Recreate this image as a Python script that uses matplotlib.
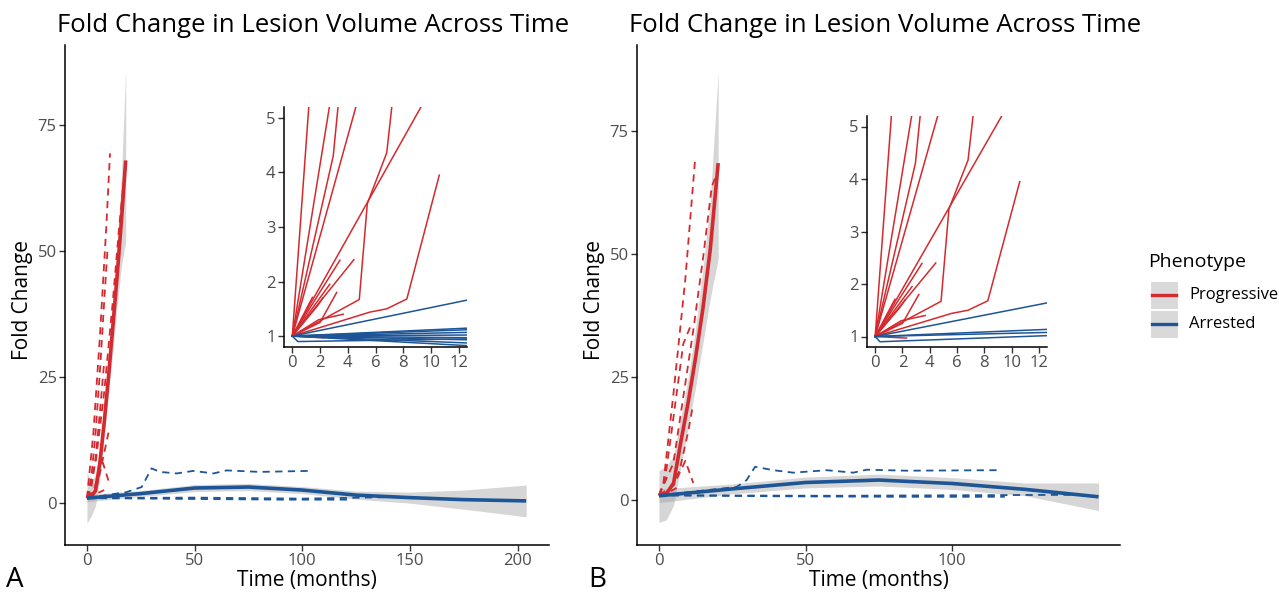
"""Fold change in lesion volume across time, two cohorts (A, B) with zoomed insets."""

import matplotlib

matplotlib.use("Agg")
import matplotlib.pyplot as plt
from matplotlib.lines import Line2D
from matplotlib.patches import Rectangle

OUTPUT = "out.png"
W, H = 1279, 594

RED = "#D42A2F"
BLUE = "#1D5597"
RIBBON = "#999999"
TICK_GREY = "#4D4D4D"

TITLE = "Fold Change in Lesion Volume Across Time"
PHENOTYPES = ["Progressive", "Arrested"]
PHENO_COLORS = [RED, BLUE]

# ---- panel A: smoothed trends (value, ribbon low, ribbon high) ----
A_RED_T = [0, 2, 4, 6, 8, 10, 12, 14, 16, 18]
A_RED_V = [1, 1.3, 2.5, 8, 16, 25, 35, 45, 56, 68]
A_RED_LO = [-4, -2.5, -0.5, 5, 13, 21.5, 30, 39, 47, 52]
A_RED_HI = [6, 4.5, 5.5, 11, 19, 28.5, 40, 51, 65, 86]

A_BLUE_T = [0, 25, 50, 75, 100, 125, 150, 175, 204]
A_BLUE_V = [1.0, 1.9, 3.0, 3.2, 2.6, 1.6, 1.1, 0.7, 0.45]
A_BLUE_LO = [0.3, 1.3, 2.3, 2.5, 1.9, 0.8, 0.0, -1.2, -2.7]
A_BLUE_HI = [1.7, 2.5, 3.7, 3.9, 3.3, 2.4, 2.2, 2.6, 3.6]

# ---- panel A: individual trajectories ----
A_RED_LINES = [
    ([0, 3, 6, 9, 10.7], [1, 14, 33, 55, 69.4]),
    ([0, 4, 8, 12, 15, 17.6], [1, 8, 22, 40, 55, 66]),
    ([0, 2, 4, 6, 8, 9.5], [1, 5, 14, 26, 40, 50]),
    ([0, 2, 4, 6, 8], [1, 3, 9, 18, 28]),
    ([0, 3, 5, 7.4, 10.7], [1, 2.5, 5, 8, 3.5]),
    ([0, 2, 5, 8, 10], [1, 2, 4, 10, 14]),
    ([0, 4, 8], [1, 1.8, 2.6]),
]
A_BLUE_LINES = [
    ([0, 18.4, 25.4, 30, 33.9, 41.7, 49.4, 58.7, 64.9, 80.4, 102.8],
     [1, 2.2, 3.2, 6.9, 6.2, 5.9, 6.4, 5.9, 6.5, 6.2, 6.4]),
    ([0, 30, 60, 90, 122], [1, 0.9, 0.8, 0.7, 0.7]),
    ([0, 50, 100, 142], [1, 1.1, 0.9, 1.2]),
]

# ---- panel B: smoothed trends ----
B_RED_T = [0, 2.5, 5, 7.5, 10, 12.5, 15, 17.5, 20.2]
B_RED_V = [1, 1.3, 3.5, 12, 20, 29, 39, 51, 68.5]
B_RED_LO = [-4.5, -4, -1, 7, 15, 23, 32, 41, 49]
B_RED_HI = [6, 7, 9, 17, 25, 35, 47, 61, 87]

B_BLUE_T = [0, 25, 50, 75, 100, 125, 150]
B_BLUE_V = [0.9, 2.3, 3.6, 4.1, 3.4, 2.2, 0.7]
B_BLUE_LO = [-0.5, 1.3, 2.5, 2.9, 2.2, 0.9, -2.1]
B_BLUE_HI = [2.3, 3.3, 4.7, 5.3, 4.6, 3.5, 3.5]

# ---- panel B: individual trajectories ----
B_RED_LINES = [
    ([0, 1.5, 5, 9, 12.3], [1, 3.4, 22, 45, 69.1]),
    ([0, 4.9, 8.3, 11.7, 15.1, 18, 19.5], [1, 7.5, 21, 34.5, 49.5, 63.7, 66]),
    ([0, 2, 4.3, 8.3, 11.2], [1, 4, 14, 31.8, 36]),
    ([0, 5, 9, 11.7], [1, 3, 8, 3.5]),
    ([0, 4, 7, 10, 11.5], [1, 2.5, 6, 14, 19]),
    ([0, 3, 6], [1, 1.5, 2.5]),
]
B_BLUE_LINES = [
    ([0, 26.5, 29.9, 32.8, 39, 45.8, 57.2, 66.3, 70.9, 84.5, 115.2],
     [1, 2.7, 4.1, 6.8, 6.1, 5.6, 6.1, 5.6, 6.2, 6.0, 6.1]),
    ([0, 40, 80, 118], [1, 0.8, 0.7, 0.7]),
    ([0, 60, 141], [1, 0.9, 1.1]),
]

# ---- insets: first 12 months, fold change 1-5 ----
INSET_RED = [
    ([0, 1.3], [1, 5.6]),
    ([0, 2.8], [1, 5.4]),
    ([0, 2.95, 3.45], [1, 4.3, 5.6]),
    ([0, 4.8], [1, 5.4]),
    ([0, 4.83, 5.41, 6.81, 7.35], [1, 1.67, 3.43, 4.36, 5.6]),
    ([0, 9.5], [1, 5.3]),
    ([0, 5.6, 6.81, 8.26, 10.6], [1, 1.44, 1.5, 1.68, 3.95]),
    ([0, 4.44], [1, 2.4]),
    ([0, 3.43], [1, 2.39]),
    ([0, 2.7], [1, 1.95]),
    ([0, 1.9, 3.67], [1, 1.3, 1.4]),
    ([0, 2.3], [1, 0.97]),
    ([0, 1.45], [1, 1.71]),
    ([0, 1.8, 2.2], [1, 1.55, 1.7]),
    ([0, 2.0, 3.2], [1, 1.25, 1.8]),
]
INSET_BLUE_A = [
    ([0, 13], [1.0, 1.68]),
    ([0, 13], [1.0, 1.15]),
    ([0, 13], [1.0, 1.12]),
    ([0, 13], [1.0, 1.07]),
    ([0, 13], [1.0, 1.02]),
    ([0, 13], [1.0, 0.97]),
    ([0, 13], [1.0, 0.93]),
    ([0, 13], [1.0, 0.87]),
    ([0, 13], [1.0, 0.82]),
    ([0, 0.4, 13], [1.0, 0.9, 0.95]),
]
INSET_BLUE_B = [
    ([0, 13], [1.0, 1.66]),
    ([0, 13], [1.0, 1.14]),
    ([0, 13], [1.0, 1.08]),
    ([0, 0.35, 13], [1.0, 0.9, 1.02]),
]

A_XTICKS = [0, 50, 100, 150, 200]
B_XTICKS = [0, 50, 100]
MAIN_YTICKS = [0, 25, 50, 75]
INSET_XTICKS = [0, 2, 4, 6, 8, 10, 12]
INSET_YTICKS = [1, 2, 3, 4, 5]


def px_rect(left, top, right, bottom):
    """Pixel box (from top-left) -> figure-fraction rect."""
    return [left / W, 1 - bottom / H, (right - left) / W, (bottom - top) / H]


def style_axes(ax, fontsize):
    for side in ("top", "right"):
        ax.spines[side].set_visible(False)
    for side in ("left", "bottom"):
        ax.spines[side].set_linewidth(1.1)
        ax.spines[side].set_color("black")
    ax.tick_params(length=4, width=1, color="#333333",
                   labelcolor=TICK_GREY, labelsize=fontsize, pad=2)


def draw_main(ax, red_lines, blue_lines, red_smooth, blue_smooth,
              xlim, ylim, xticks):
    for t, v in red_lines:
        ax.plot(t, v, color=RED, lw=1.3, dashes=(4, 3))
    for t, v in blue_lines:
        ax.plot(t, v, color=BLUE, lw=1.3, dashes=(4, 3))
    for (t, v, lo, hi), col in ((red_smooth, RED), (blue_smooth, BLUE)):
        ax.fill_between(t, lo, hi, color=RIBBON, alpha=0.4, lw=0)
        ax.plot(t, v, color=col, lw=2.6, solid_capstyle="butt")
    ax.set_xlim(*xlim)
    ax.set_ylim(*ylim)
    ax.set_xticks(xticks)
    ax.set_yticks(MAIN_YTICKS)
    style_axes(ax, 12)
    ax.set_xlabel("Time (months)", fontsize=15)
    ax.set_ylabel("Fold Change", fontsize=15)
    ax.xaxis.set_label_coords(0.5, -0.05)
    ax.yaxis.set_label_coords(-0.066, 0.49)


def draw_inset(ax, red_lines, blue_lines):
    ax.set_facecolor("white")
    for t, v in red_lines:
        ax.plot(t, v, color=RED, lw=1.1)
    for t, v in blue_lines:
        ax.plot(t, v, color=BLUE, lw=1.1)
    ax.set_xlim(-0.6, 12.6)
    ax.set_ylim(0.8, 5.2)
    ax.set_xticks(INSET_XTICKS)
    ax.set_yticks(INSET_YTICKS)
    style_axes(ax, 12)


def draw_legend(fig):
    fig.text(1148 / W, 1 - 262 / H, "Phenotype", fontsize=14,
             ha="left", va="center")
    tops = [281, 310]
    for label, col, top in zip(PHENOTYPES, PHENO_COLORS, tops):
        fig.patches.append(Rectangle((1150 / W, 1 - (top + 28) / H), 28 / W, 28 / H,
                                     transform=fig.transFigure, facecolor="#D9D9D9",
                                     edgecolor="white", lw=0.8))
        yc = 1 - (top + 14) / H
        fig.lines.append(Line2D([1152 / W, 1176 / W], [yc, yc], color=col, lw=2.4,
                                transform=fig.transFigure))
        fig.text(1189 / W, yc, label, fontsize=12, ha="left", va="center")


def main() -> int:
    plt.rcParams["font.family"] = ["Open Sans", "DejaVu Sans"]
    fig = plt.figure(figsize=(W / 100, H / 100), dpi=100)

    ax_a = fig.add_axes(px_rect(65, 45, 549, 545))
    draw_main(ax_a, A_RED_LINES, A_BLUE_LINES,
              (A_RED_T, A_RED_V, A_RED_LO, A_RED_HI),
              (A_BLUE_T, A_BLUE_V, A_BLUE_LO, A_BLUE_HI),
              (-10.2, 214.6), (-8.3, 90.9), A_XTICKS)

    ax_b = fig.add_axes(px_rect(637, 45, 1120, 545))
    draw_main(ax_b, B_RED_LINES, B_BLUE_LINES,
              (B_RED_T, B_RED_V, B_RED_LO, B_RED_HI),
              (B_BLUE_T, B_BLUE_V, B_BLUE_LO, B_BLUE_HI),
              (-7.5, 157.3), (-9.1, 92.5), B_XTICKS)

    in_a = fig.add_axes(px_rect(284, 107, 467, 347))
    draw_inset(in_a, INSET_RED, INSET_BLUE_A)
    in_b = fig.add_axes(px_rect(867, 116, 1047, 347))
    draw_inset(in_b, INSET_RED, INSET_BLUE_B)

    for x in (57, 629):
        fig.text(x / W, 1 - 25 / H, TITLE, fontsize=18.5, ha="left", va="center")
    for x, letter in ((15, "A"), (597, "B")):
        fig.text(x / W, 1 - 580 / H, letter, fontsize=20, ha="center", va="center")

    draw_legend(fig)
    fig.savefig(OUTPUT, dpi=100)
    return 0


if __name__ == "__main__":
    raise SystemExit(main())
